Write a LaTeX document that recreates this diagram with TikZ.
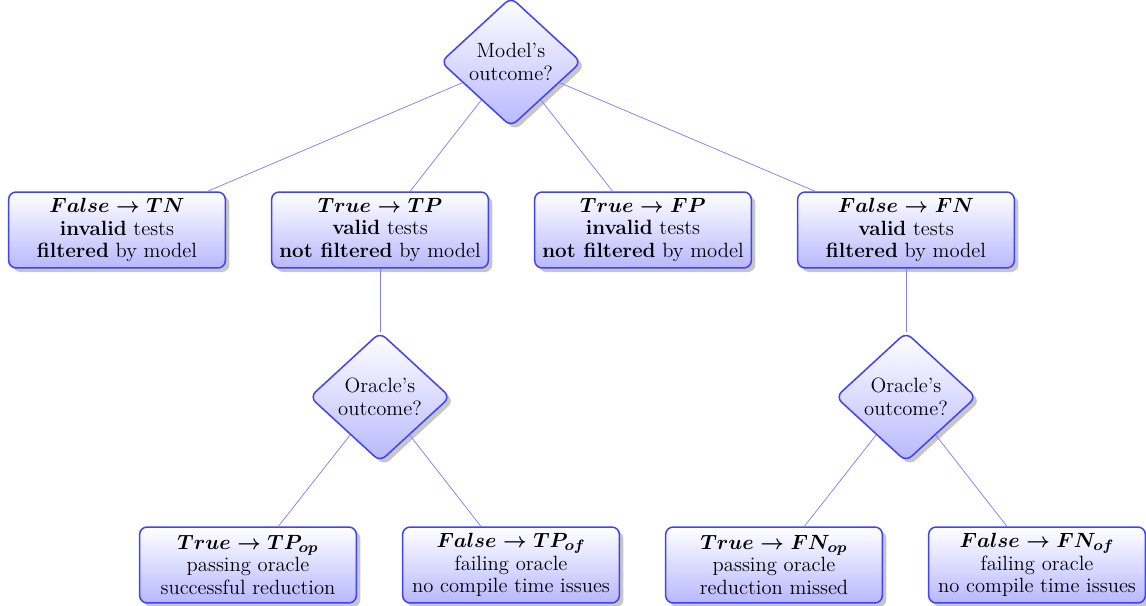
\documentclass[tikz,border=0pt]{standalone}
\usetikzlibrary{shapes.geometric,shadows}
\begin{document}
\begin{tikzpicture}[x=0.533pt,y=-0.533pt,
  base/.style={draw=blue!75, thick, top color=white, bottom color=blue!28,
    drop shadow={opacity=0.45}, align=center,
    font=\fontsize{11}{12.1}\selectfont},
  decision/.style={base, diamond, rounded corners=4pt, inner sep=0pt,
    minimum width=75pt, minimum height=69pt},
  outcome/.style={base, rectangle, rounded corners=4pt, inner sep=2pt,
    minimum width=115.5pt, minimum height=40.5pt},
  link/.style={draw=blue!50}]
\useasboundingbox (0,0) rectangle (1146,606);

% model decision
\node[decision] (model) at (511,62) {Model's\\outcome?};

% first level outcomes
\node[outcome] (tn) at (117,230) {{\boldmath$False \rightarrow TN$}\\\textbf{invalid} tests\\\textbf{filtered} by model};
\node[outcome] (tp) at (380,230) {{\boldmath$True \rightarrow TP$}\\\textbf{valid} tests\\\textbf{not filtered} by model};
\node[outcome] (fp) at (643,230) {{\boldmath$True \rightarrow FP$}\\\textbf{invalid} tests\\\textbf{not filtered} by model};
\node[outcome] (fn) at (906,230) {{\boldmath$False \rightarrow FN$}\\\textbf{valid} tests\\\textbf{filtered} by model};

% oracle decisions
\node[decision] (oracleA) at (380,397) {Oracle's\\outcome?};
\node[decision] (oracleB) at (906,397) {Oracle's\\outcome?};

% second level outcomes
\node[outcome] (tpop) at (248,565) {{\boldmath$True \rightarrow TP_{op}$}\\passing oracle\\successful reduction};
\node[outcome] (tpof) at (511,565) {{\boldmath$False \rightarrow TP_{of}$}\\failing oracle\\no compile time issues};
\node[outcome] (fnop) at (774,565) {{\boldmath$True \rightarrow FN_{op}$}\\passing oracle\\reduction missed};
\node[outcome] (fnof) at (1037,565) {{\boldmath$False \rightarrow FN_{of}$}\\failing oracle\\no compile time issues};

% connectors
\draw[link] (model) -- (tn);
\draw[link] (model) -- (tp);
\draw[link] (model) -- (fp);
\draw[link] (model) -- (fn);
\draw[link] (tp) -- (oracleA);
\draw[link] (fn) -- (oracleB);
\draw[link] (oracleA) -- (tpop);
\draw[link] (oracleA) -- (tpof);
\draw[link] (oracleB) -- (fnop);
\draw[link] (oracleB) -- (fnof);
\end{tikzpicture}
\end{document}
